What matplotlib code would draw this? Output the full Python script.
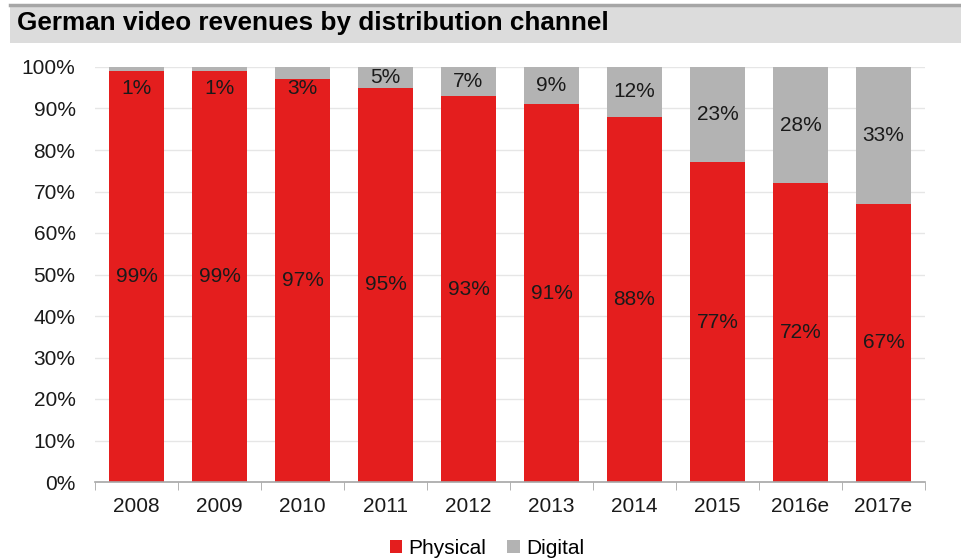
import numpy as np
import matplotlib.pyplot as plt
from matplotlib.patches import Rectangle
from matplotlib.lines import Line2D

plt.rcParams['font.family'] = ['Liberation Sans', 'DejaVu Sans']

years = ['2008', '2009', '2010', '2011', '2012', '2013', '2014', '2015', '2016e', '2017e']
physical = [99, 99, 97, 95, 93, 91, 88, 77, 72, 67]
digital = [1, 1, 3, 5, 7, 9, 12, 23, 28, 33]

red = '#e41e1e'
grey = '#b3b3b3'
txt = '#1a1a1a'
fs = 15

fig = plt.figure(figsize=(9.62, 5.6), dpi=100)

# title band
fig.patches.append(Rectangle((10 / 962, 1 - 43 / 560), 1, 39 / 560, transform=fig.transFigure,
                             facecolor='#dcdcdc', edgecolor='none', zorder=0))
fig.lines.append(Line2D([10 / 962, 1], [1 - 4.5 / 560, 1 - 4.5 / 560], transform=fig.transFigure,
                        color='#a6a6a6', lw=2.5))
fig.text(17 / 962, 1 - 23 / 560, 'German video revenues by distribution channel',
         fontsize=18.8, fontweight='bold', va='center', ha='left', color='black')

ax = fig.add_axes([95 / 962, 1 - 482 / 560, 830 / 962, 415 / 560])
x = np.arange(len(years))
ax.bar(x, physical, width=0.66, color=red, zorder=2, label='Physical')
ax.bar(x, digital, width=0.66, bottom=physical, color=grey, zorder=2, label='Digital')

for i in range(len(years)):
    ax.text(x[i], physical[i] / 2, f'{physical[i]}%', ha='center', va='center',
            fontsize=fs, color=txt, zorder=3)
    # thin slices get their label pushed down into the red bar
    yd = physical[i] + digital[i] / 2
    if digital[i] < 5:
        yd = 94.8
    ax.text(x[i], yd, f'{digital[i]}%', ha='center', va='center',
            fontsize=fs, color=txt, zorder=3)

ax.set_xlim(-0.5, len(years) - 0.5)
ax.set_ylim(0, 100)
ax.set_yticks(range(0, 101, 10))
ax.set_yticklabels([f'{v}%' for v in range(0, 101, 10)], fontsize=fs, color=txt)
ax.set_xticks(x)
ax.set_xticklabels(years, fontsize=fs, color=txt)
ax.tick_params(axis='x', length=0, pad=11)
ax.tick_params(axis='y', length=0, pad=14)
ax.set_xticks(np.arange(-0.5, len(years), 1), minor=True)
ax.tick_params(axis='x', which='minor', length=6, color='#a6a6a6', direction='out')
ax.yaxis.grid(True, color='#e6e6e6', lw=1, zorder=0)
for s in ['left', 'right', 'top']:
    ax.spines[s].set_visible(False)
ax.spines['bottom'].set_color('#a6a6a6')
ax.spines['bottom'].set_linewidth(1.2)

ax.legend(loc='center', bbox_to_anchor=(0.472, -0.16), ncol=2, frameon=False,
          fontsize=fs, handlelength=0.6, handleheight=0.6, handletextpad=0.3,
          columnspacing=1.0)

fig.savefig('out.png', dpi=100)
